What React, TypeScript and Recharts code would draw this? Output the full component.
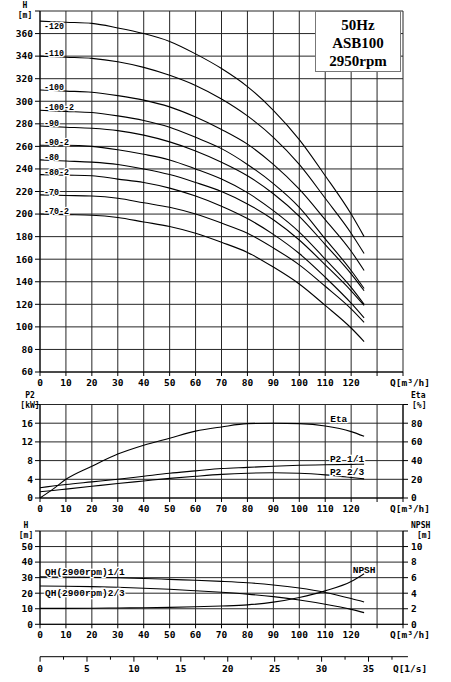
import React from 'react';
import { LineChart, Line, XAxis, YAxis, CartesianGrid } from 'recharts';

// flow points (m3/h) used by the head and bottom curves
const flowQ = [0, 10, 20, 30, 40, 50, 60, 70, 80, 90, 100, 110, 120, 125];
const flowTicks = [0, 10, 20, 30, 40, 50, 60, 70, 80, 90, 100, 110, 120, 130, 140];

// head curves, one per stage variant
const stageNames = ['-120', '-110', '-100', '-100-2', '-90', '-90-2', '-80', '-80-2', '-70', '-70-2'];
const h120 = [371, 370, 369, 365, 360, 353, 342, 329, 313, 292, 266, 234, 200, 180];
const h110 = [340, 339, 338, 335, 330, 323, 314, 302, 287, 268, 244, 214, 183, 165];
const h100 = [310, 309, 308, 305, 301, 295, 286, 275, 262, 244, 222, 195, 167, 150];
const h100b = [292, 291, 290, 287, 283, 277, 268, 258, 244, 227, 206, 178, 150, 134];
const h90 = [278, 277, 276, 274, 270, 264, 256, 246, 234, 218, 198, 173, 147, 132];
const h90b = [261, 261, 260, 257, 253, 248, 240, 231, 219, 203, 184, 160, 135, 120];
const h80 = [248, 247, 246, 244, 240, 235, 228, 220, 209, 195, 177, 155, 132, 119];
const h80b = [235, 234.5, 234, 231, 228, 223, 216, 207, 196, 182, 165, 144, 121, 108];
const h70 = [217, 216.5, 216, 214, 210, 206, 200, 192, 183, 170, 155, 136, 116, 104];
const h70b = [200, 199.5, 199, 197, 193, 189, 183, 175, 166, 153, 138, 119, 99, 87];
const headCurves = [h120, h110, h100, h100b, h90, h90b, h80, h80b, h70, h70b];
const headTicks = [60, 80, 100, 120, 140, 160, 180, 200, 220, 240, 260, 280, 300, 320, 340, 360, 380];

// power / efficiency
const powerQ = [0, 5, 10, 20, 30, 40, 50, 60, 70, 80, 90, 100, 110, 120, 125];
const etaPct = [0, 9.5, 20, 34, 47, 56.5, 64, 71.5, 76, 79.5, 80, 79.5, 77, 71, 66];
const p2Full = [2.2, 2.55, 2.9, 3.45, 4.0, 4.65, 5.3, 5.8, 6.3, 6.55, 6.8, 7.0, 7.1, 7.2, 7.25];
const p2TwoThirds = [1.35, 1.6, 1.9, 2.5, 3.1, 3.65, 4.2, 4.65, 5.05, 5.3, 5.4, 5.3, 4.95, 4.4, 4.1];
const p2Ticks = [0, 4, 8, 12, 16, 20];
const etaTicks = [0, 20, 40, 60, 80, 100];

// 2900 rpm head and NPSH
const qhFull = [30.5, 30.4, 30.2, 29.9, 29.5, 28.9, 28.3, 27.6, 26.7, 25.3, 23.3, 20.5, 16.6, 14.4];
const qhTwoThirds = [24.6, 24.5, 24.2, 23.8, 23.2, 22.5, 21.6, 20.6, 19.4, 17.8, 15.6, 12.9, 9.6, 7.5];
const npsh = [2.05, 2.05, 2.07, 2.1, 2.13, 2.18, 2.25, 2.35, 2.5, 2.85, 3.45, 4.3, 5.5, 6.5];
const hTicks = [0, 10, 20, 30, 40, 50, 60];
const npshTicks = [0, 2, 4, 6, 8, 10, 12];

// l/s scale
const lpsTicks = [0, 2.5, 5, 7.5, 10, 12.5, 15, 17.5, 20, 22.5, 25, 27.5, 30, 32.5, 35, 37.5, 39.2];
const lpsMax = 39.2;

const headRows = flowQ.map((q, i) => {
  const row: Record<string, number> = { q };
  headCurves.forEach((c, k) => (row['c' + k] = c[i]));
  return row;
});
const powerRows = powerQ.map((q, i) => ({ q, eta: etaPct[i], p1: p2Full[i], p2: p2TwoThirds[i] }));
const lowRows = flowQ.map((q, i) => ({ q, qh1: qhFull[i], qh2: qhTwoThirds[i], npsh: npsh[i] }));
const lpsRows = lpsTicks.map((v) => ({ v }));

const MONO = "'DejaVu Sans Mono', monospace";
const LABEL = "'Liberation Mono', 'DejaVu Sans Mono', monospace";
const txt = { fontFamily: MONO, fontSize: 9.5, fontWeight: 700, fill: '#000' } as const;
const lab = { fontFamily: LABEL, fontSize: 9.5, fontWeight: 700, fill: '#000' } as const;
const halo = { paintOrder: 'stroke', stroke: '#fff', strokeWidth: 2.5 } as any;
const GRID = '#262626';

function QTick(props: any) {
  const { x, y, payload } = props;
  const v = payload.value;
  if (v === 140) {
    return (
      <text x={x - 13} y={y} dy="0.71em" {...txt}>
        Q[m³/h]
      </text>
    );
  }
  if (v > 120) return <g />;
  return (
    <text x={x} y={y} dy="0.71em" textAnchor="middle" {...txt}>
      {v}
    </text>
  );
}

function makeLeftTick(top: number, head: string, unit: string, dx: number, dyHead: number, dyUnit: number) {
  return (props: any) => {
    const { x, y, payload } = props;
    if (payload.value === top) {
      return (
        <g>
          <text x={x + dx} y={y + dyHead} textAnchor="middle" {...txt} fontSize={8}>
            {head}
          </text>
          <text x={x + dx} y={y + dyUnit} textAnchor="middle" {...txt} fontSize={8}>
            {unit}
          </text>
        </g>
      );
    }
    return (
      <text x={x} y={y} dy="0.355em" textAnchor="end" {...txt}>
        {payload.value}
      </text>
    );
  };
}

function makeRightTick(top: number, head: string, unit: string, dxUnit: number, dyHead: number, dyUnit: number) {
  return (props: any) => {
    const { x, y, payload } = props;
    if (payload.value === top) {
      return (
        <g>
          <text x={x} y={y + dyHead} {...txt} fontSize={8}>
            {head}
          </text>
          <text x={x + dxUnit} y={y + dyUnit} {...txt} fontSize={8}>
            {unit}
          </text>
        </g>
      );
    }
    return (
      <text x={x} y={y} dy="0.355em" {...txt}>
        {payload.value}
      </text>
    );
  };
}

function LpsTick(props: any) {
  const { x, y, payload } = props;
  const v = payload.value;
  if (v === lpsMax) {
    return (
      <text x={x - 15} y={y + 15} {...txt}>
        Q[1/s]
      </text>
    );
  }
  const major = v % 5 === 0;
  return (
    <g>
      <line x1={x} x2={x} y1={y} y2={y + (major ? 5 : 3)} stroke="#000" />
      {major && (
        <text x={x} y={y + 15} textAnchor="middle" {...txt}>
          {v}
        </text>
      )}
    </g>
  );
}

// label drawn at one point of a series
function pointLabel(text: string, at: number, dx: number, dy: number, anchor: string, style: any) {
  return (p: any) => {
    if (p.index !== at) return <g key={p.key ?? 'd' + p.index} />;
    return (
      <text key={p.key ?? 'l' + p.index} x={p.cx + dx} y={p.cy + dy} textAnchor={anchor} {...style} {...halo}>
        {text}
      </text>
    );
  };
}

const axisLine = { stroke: '#000', strokeWidth: 1 };

export default function App() {
  return (
    <div style={{ position: 'absolute', left: 0, top: 0, width: 451, height: 682, background: '#fff' }}>
      {/* H-Q */}
      <div style={{ position: 'absolute', left: 0, top: 0 }}>
        <LineChart width={451} height={395} data={headRows} margin={{ top: 11, right: 48, left: 0, bottom: 0 }}>
          <CartesianGrid stroke={GRID} strokeWidth={1} />
          <XAxis dataKey="q" type="number" domain={[0, 140]} ticks={flowTicks} interval={0} height={23} tickSize={4} tickMargin={3} tick={QTick} axisLine={axisLine} tickLine={axisLine} />
          <YAxis type="number" domain={[60, 380]} ticks={headTicks} interval={0} width={40} tickSize={5} tickMargin={2} tick={makeLeftTick(380, 'H', '[m]', -8, -3, 7)} axisLine={axisLine} tickLine={axisLine} />
          {headCurves.map((_, k) => (
            <Line
              key={k}
              type="monotone"
              dataKey={'c' + k}
              stroke="#000"
              strokeWidth={1.1}
              isAnimationActive={false}
              dot={pointLabel(stageNames[k], 0, 4, k === 0 ? 8 : 0, 'start', { ...lab, fontSize: 8.3 })}
            />
          ))}
        </LineChart>
        <div
          style={{
            position: 'absolute',
            left: 315,
            top: 11,
            width: 86,
            height: 61,
            border: '1.5px solid #777',
            background: '#fff',
            fontFamily: "'Liberation Serif', serif",
            fontWeight: 700,
            fontSize: 15,
            lineHeight: '18px',
            textAlign: 'center',
            paddingTop: 4,
            boxSizing: 'border-box',
          }}
        >
          <div>50Hz</div>
          <div>ASB100</div>
          <div>2950rpm</div>
        </div>
      </div>

      {/* P2 / Eta */}
      <div style={{ position: 'absolute', left: 0, top: 380 }}>
        <LineChart width={451} height={140} data={powerRows} margin={{ top: 24.5, right: 0, left: 0, bottom: 0 }}>
          <CartesianGrid stroke={GRID} strokeWidth={1} yAxisId="p" />
          <XAxis dataKey="q" type="number" domain={[0, 140]} ticks={flowTicks} interval={0} height={22} tickSize={4} tickMargin={3} tick={QTick} axisLine={axisLine} tickLine={axisLine} />
          <YAxis yAxisId="p" type="number" domain={[0, 20]} ticks={p2Ticks} interval={0} width={40} tickSize={5} tickMargin={2} tick={makeLeftTick(20, 'P2', '[kW]', -3, -6.5, 3.5)} axisLine={axisLine} tickLine={axisLine} />
          <YAxis yAxisId="e" orientation="right" type="number" domain={[0, 100]} ticks={etaTicks} interval={0} width={48} tickSize={5} tickMargin={3} tick={makeRightTick(100, 'Eta', '[%]', 1, -6.5, 3.5)} axisLine={axisLine} tickLine={axisLine} />
          <Line yAxisId="e" type="monotone" dataKey="eta" stroke="#000" strokeWidth={1.1} isAnimationActive={false} dot={pointLabel('Eta', 12, 5, -4, 'start', lab)} />
          <Line yAxisId="p" type="monotone" dataKey="p1" stroke="#000" strokeWidth={1.1} isAnimationActive={false} dot={pointLabel('P2 1/1', 14, 0, -2, 'end', lab)} />
          <Line yAxisId="p" type="monotone" dataKey="p2" stroke="#000" strokeWidth={1.1} isAnimationActive={false} dot={pointLabel('P2 2/3', 14, 0, -4, 'end', lab)} />
        </LineChart>
      </div>

      {/* H 2900rpm / NPSH */}
      <div style={{ position: 'absolute', left: 0, top: 515 }}>
        <LineChart width={451} height={135} data={lowRows} margin={{ top: 16, right: 0, left: 0, bottom: 0 }}>
          <CartesianGrid stroke={GRID} strokeWidth={1} yAxisId="h" />
          <XAxis dataKey="q" type="number" domain={[0, 140]} ticks={flowTicks} interval={0} height={25.7} tickSize={4} tickMargin={3} tick={QTick} axisLine={axisLine} tickLine={axisLine} />
          <YAxis yAxisId="h" type="number" domain={[0, 60]} ticks={hTicks} interval={0} width={40} tickSize={5} tickMargin={2} tick={makeLeftTick(60, 'H', '[m]', -7, -3.5, 6.5)} axisLine={axisLine} tickLine={axisLine} />
          <YAxis yAxisId="n" orientation="right" type="number" domain={[0, 12]} ticks={npshTicks} interval={0} width={48} tickSize={5} tickMargin={3} tick={makeRightTick(12, 'NPSH', '[m]', 6, -3.5, 6.5)} axisLine={axisLine} tickLine={axisLine} />
          <Line yAxisId="h" type="monotone" dataKey="qh1" stroke="#000" strokeWidth={1.1} isAnimationActive={false} dot={pointLabel('QH(2900rpm)1/1', 0, 5, -2, 'start', lab)} />
          <Line yAxisId="h" type="monotone" dataKey="qh2" stroke="#000" strokeWidth={1.1} isAnimationActive={false} dot={pointLabel('QH(2900rpm)2/3', 0, 5, 10, 'start', lab)} />
          <Line yAxisId="n" type="monotone" dataKey="npsh" stroke="#000" strokeWidth={1.1} isAnimationActive={false} dot={pointLabel('NPSH', 13, 0, -1, 'middle', lab)} />
        </LineChart>
      </div>

      {/* l/s scale */}
      <div style={{ position: 'absolute', left: 0, top: 645 }}>
        <LineChart width={451} height={36.7} data={lpsRows} margin={{ top: 10.7, right: 43, left: 40, bottom: 0 }}>
          <XAxis dataKey="v" type="number" domain={[0, lpsMax]} ticks={lpsTicks} interval={0} height={25} tickSize={0} tickMargin={0} tickLine={false} tick={LpsTick} axisLine={axisLine} />
          <YAxis hide domain={[0, 1]} />
        </LineChart>
      </div>
    </div>
  );
}
